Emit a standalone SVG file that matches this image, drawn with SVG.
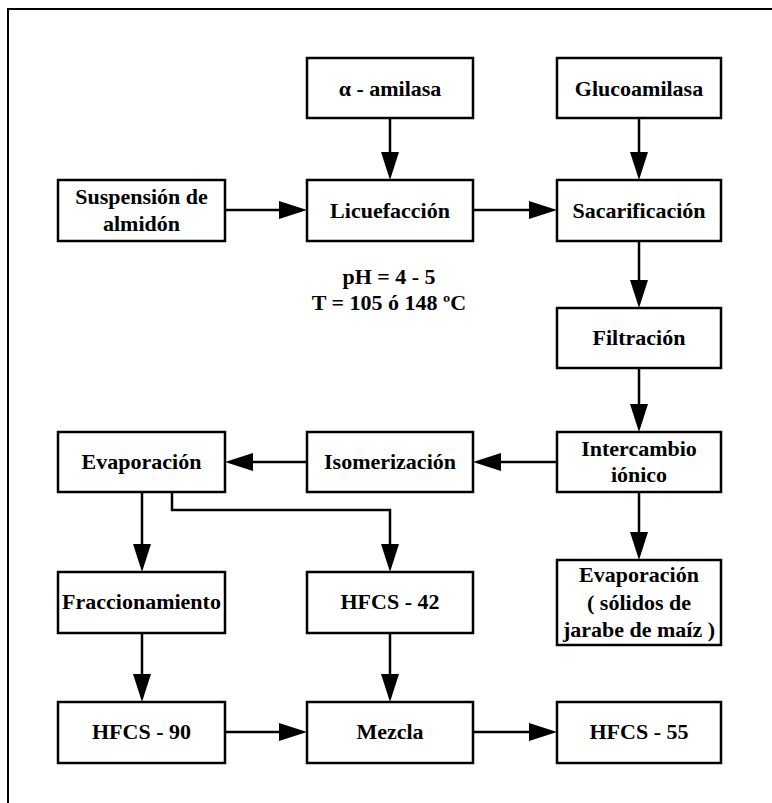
<svg xmlns="http://www.w3.org/2000/svg" width="772" height="803" viewBox="0 0 772 803">
<style>
.box{fill:#fff;stroke:#000;stroke-width:2.5}
.t{font-family:"Liberation Serif","Times New Roman",serif;font-weight:bold;font-size:22px;text-anchor:middle;fill:#000}
.c{fill:none;stroke:#000;stroke-width:2.5}
.frame{fill:none;stroke:#000;stroke-width:2}
</style>
<defs>
<marker id="ah" markerUnits="userSpaceOnUse" markerWidth="28" markerHeight="18" viewBox="0 0 28 18" refX="18" refY="9" orient="auto">
<path d="M0,0 L28,9 L0,18 z" fill="#000"/>
</marker>
</defs>
<rect width="772" height="803" fill="#fff"/>
<path class="frame" d="M8,803 V9 H772"/>
<g id="connectors">
<path class="c" marker-end="url(#ah)" d="M390,118 V170"/>
<path class="c" marker-end="url(#ah)" d="M639,118 V170"/>
<path class="c" marker-end="url(#ah)" d="M225,210 H297"/>
<path class="c" marker-end="url(#ah)" d="M473,210 H547"/>
<path class="c" marker-end="url(#ah)" d="M639,241 V298"/>
<path class="c" marker-end="url(#ah)" d="M639,368 V422"/>
<path class="c" marker-end="url(#ah)" d="M557,462 H483"/>
<path class="c" marker-end="url(#ah)" d="M307,462 H235"/>
<path class="c" marker-end="url(#ah)" d="M639,492 V550"/>
<path class="c" marker-end="url(#ah)" d="M142,492 V562"/>
<path class="c" marker-end="url(#ah)" d="M172,492 V510 H390 V562"/>
<path class="c" marker-end="url(#ah)" d="M142,633 V692"/>
<path class="c" marker-end="url(#ah)" d="M390,633 V692"/>
<path class="c" marker-end="url(#ah)" d="M225,732 H297"/>
<path class="c" marker-end="url(#ah)" d="M473,732 H547"/>
</g>
<g id="alfa-amilasa"><rect class="box" x="307" y="58" width="166" height="60"/><text class="t" x="390" y="96">α - amilasa</text></g>
<g id="glucoamilasa"><rect class="box" x="557" y="58" width="164" height="60"/><text class="t" x="639" y="96">Glucoamilasa</text></g>
<g id="suspension"><rect class="box" x="58" y="180" width="167" height="61"/><text class="t" x="141.5" y="204">Suspensión de</text><text class="t" x="141.5" y="231">almidón</text></g>
<g id="licuefaccion"><rect class="box" x="307" y="180" width="166" height="61"/><text class="t" x="390" y="218">Licuefacción</text></g>
<g id="sacarificacion"><rect class="box" x="557" y="180" width="164" height="61"/><text class="t" x="639" y="218">Sacarificación</text></g>
<g id="condiciones"><text class="t" x="389" y="284">pH = 4 - 5</text><text class="t" x="389" y="310">T = 105 ó 148 ºC</text></g>
<g id="filtracion"><rect class="box" x="557" y="308" width="164" height="60"/><text class="t" x="639" y="345">Filtración</text></g>
<g id="intercambio"><rect class="box" x="557" y="432" width="164" height="60"/><text class="t" x="639" y="456">Intercambio</text><text class="t" x="639" y="482">iónico</text></g>
<g id="isomerizacion"><rect class="box" x="307" y="432" width="166" height="60"/><text class="t" x="390" y="469">Isomerización</text></g>
<g id="evaporacion1"><rect class="box" x="58" y="432" width="167" height="60"/><text class="t" x="141.5" y="469">Evaporación</text></g>
<g id="fraccionamiento"><rect class="box" x="58" y="572" width="167" height="61"/><text class="t" x="141.5" y="609">Fraccionamiento</text></g>
<g id="hfcs42"><rect class="box" x="307" y="572" width="166" height="61"/><text class="t" x="390" y="609">HFCS - 42</text></g>
<g id="evaporacion2"><rect class="box" x="557" y="560" width="164" height="85"/><text class="t" x="639" y="582">Evaporación</text><text class="t" x="639" y="610">( sólidos de</text><text class="t" x="639" y="637">jarabe de maíz )</text></g>
<g id="hfcs90"><rect class="box" x="58" y="702" width="167" height="61"/><text class="t" x="141.5" y="739">HFCS - 90</text></g>
<g id="mezcla"><rect class="box" x="307" y="702" width="166" height="61"/><text class="t" x="390" y="739">Mezcla</text></g>
<g id="hfcs55"><rect class="box" x="557" y="702" width="164" height="61"/><text class="t" x="639" y="739">HFCS - 55</text></g>
</svg>
